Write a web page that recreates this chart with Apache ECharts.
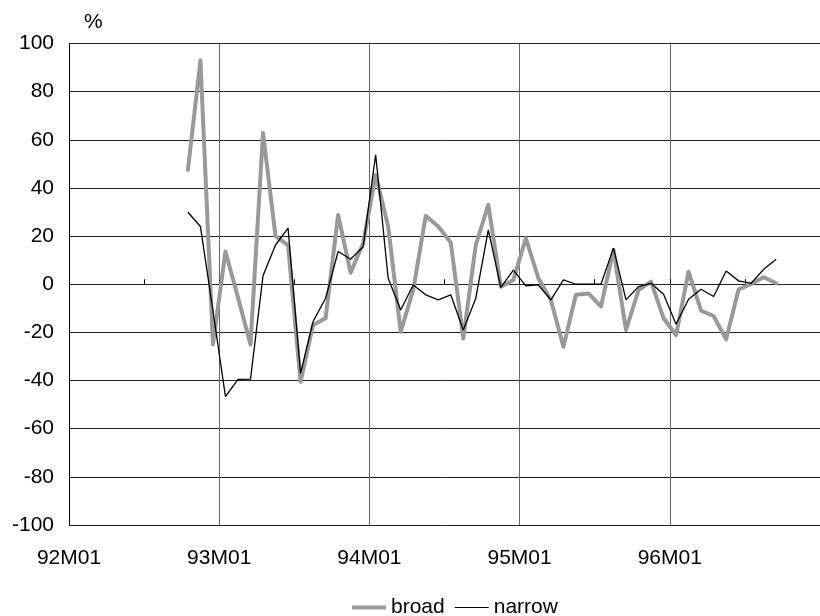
<!DOCTYPE html>
<html>
<head>
<meta charset="utf-8">
<script src="https://cdn.jsdelivr.net/npm/echarts@6/dist/echarts.min.js"></script>
<style>html,body{margin:0;padding:0;background:#fff;}#c{width:820px;height:616px;}</style>
</head>
<body>
<div id="c"></div>
<script>
// Monthly categories 92M01 .. 96M12
var categories = [
  '92M01','92M02','92M03','92M04','92M05','92M06','92M07','92M08','92M09','92M10','92M11','92M12',
  '93M01','93M02','93M03','93M04','93M05','93M06','93M07','93M08','93M09','93M10','93M11','93M12',
  '94M01','94M02','94M03','94M04','94M05','94M06','94M07','94M08','94M09','94M10','94M11','94M12',
  '95M01','95M02','95M03','95M04','95M05','95M06','95M07','95M08','95M09','95M10','95M11','95M12',
  '96M01','96M02','96M03','96M04','96M05','96M06','96M07','96M08','96M09','96M10','96M11','96M12'
];
// Year labels placed at the year boundaries
var tickLabels = ['92M01','93M01','94M01','95M01','96M01'];
var yTicks = [-100,-80,-60,-40,-20,0,20,40,60,80,100];

var broad = [
  null,null,null,null,null,null,null,null,null,
  47.5,93,-25,13.6,-5.5,-25,62.8,20,16.3,-40.5,-16.9,-14.1,28.8,4.8,17,
  45.4,24,-19.7,-2.4,28.4,24,17.3,-22.5,16.3,33,-1,1.8,
  19.1,2.5,-6.5,-26,-4.4,-3.8,-9.3,14.3,-19,-2.4,1.1,-14.1,
  -21.1,5.2,-11,-13.2,-22.9,-2.1,0.1,2.9,0.4,
  null,null,null
];
var narrow = [
  null,null,null,null,null,null,null,null,null,
  29.9,24,-11,-46.7,-39.5,-39.4,3.5,16.3,23.3,-37,-15.5,-5.8,13.6,10.4,15.6,
  53.8,2.5,-10.7,-0.3,-4.4,-6.5,-4.4,-19,-5.8,22.6,-1.3,5.9,
  -0.7,-0.3,-6.5,1.8,0,0,0,15,-6.5,-1,0.4,-4.2,
  -16.6,-6.2,-2.1,-5.1,5.5,1.4,0.4,6.2,10.4,
  null,null,null
];

var FONT = 'Liberation Sans';
var FS = 21;
var chart = echarts.init(document.getElementById('c'), null, {renderer: 'canvas'});
var nCat = categories.length;
chart.setOption({
  animation: false,
  backgroundColor: '#fff',
  textStyle: {fontFamily: FONT, color: '#000'},
  grid: {left: 69, top: 43.5, width: 764, height: 481.5, containLabel: false},
  graphic: [{
    type: 'text', left: 84, top: 12,
    style: {text: '%', font: FS + 'px "' + FONT + '"', fill: '#000'}
  }],
  legend: {
    left: 347, top: 592,
    itemWidth: 34, itemHeight: 14, itemGap: 10,
    symbolKeepAspect: true,
    textStyle: {fontFamily: FONT, fontSize: FS, color: '#000'},
    data: [
      {name: 'broad', icon: 'path://M0,0H34V4H0Z'},
      {name: 'narrow', icon: 'path://M0,0H34V1.2H0Z'}
    ]
  },
  xAxis: [
    {
      type: 'category', data: categories, boundaryGap: true, show: false,
      axisLine: {onZero: false}
    },
    {
      type: 'value', min: 0, max: nCat, interval: 12, position: 'bottom',
      axisLine: {show: false, onZero: false},
      axisTick: {show: false},
      splitLine: {show: true, lineStyle: {color: '#666', width: 1}},
      axisLabel: {
        show: true, margin: 23, fontFamily: FONT, fontSize: FS, color: '#000',
        showMaxLabel: false,
        formatter: function (v) { var t = tickLabels[Math.round(v / 12)]; return t === undefined ? '' : t; }
      }
    },
    {
      type: 'value', min: 0, max: nCat, interval: 6, position: 'bottom',
      axisLine: {show: false, onZero: true, onZeroAxisIndex: 0},
      axisTick: {show: true, inside: true, length: 5, lineStyle: {color: '#000', width: 1}},
      splitLine: {show: false},
      axisLabel: {show: false}
    }
  ],
  yAxis: {
    type: 'value', min: yTicks[0], max: yTicks[yTicks.length - 1], interval: 20,
    axisLine: {show: true, lineStyle: {color: '#000', width: 1}},
    axisTick: {show: false},
    splitLine: {show: true, lineStyle: {color: '#222', width: 1}},
    axisLabel: {margin: 15, fontFamily: FONT, fontSize: FS, color: '#000'}
  },
  series: [
    {
      name: 'broad', type: 'line', xAxisIndex: 0, data: broad,
      symbol: 'none', showSymbol: false, connectNulls: false,
      lineStyle: {color: '#999999', width: 4, cap: 'round', join: 'round'},
      itemStyle: {color: '#999999'}
    },
    {
      name: 'narrow', type: 'line', xAxisIndex: 0, data: narrow,
      symbol: 'none', showSymbol: false, connectNulls: false,
      lineStyle: {color: '#000', width: 1.3},
      itemStyle: {color: '#000'}
    }
  ]
});
</script>
</body>
</html>
